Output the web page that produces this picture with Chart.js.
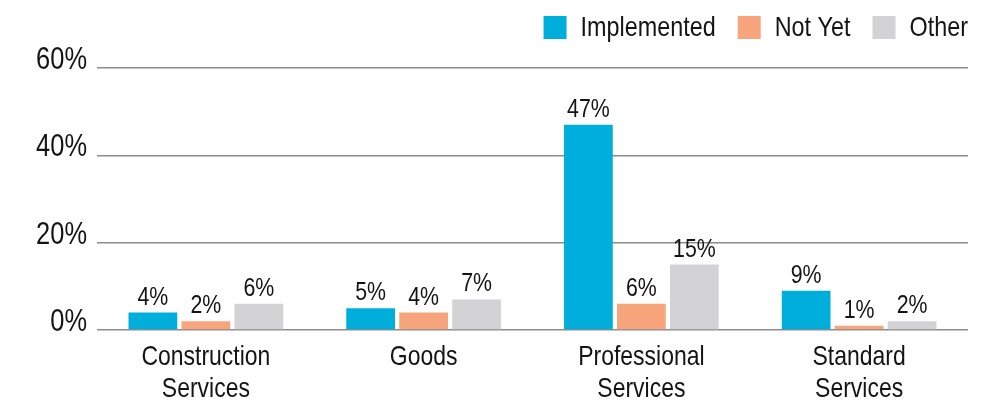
<!DOCTYPE html>
<html>
<head>
<meta charset="utf-8">
<script src="https://cdn.jsdelivr.net/npm/chart.js@4/dist/chart.umd.min.js"></script>
<style>
  html, body { margin: 0; padding: 0; background: #fff; }
  #wrap { width: 994px; height: 402px; position: relative; }
</style>
</head>
<body>
<div id="wrap"><canvas id="chart"></canvas></div>
<script>
const categories = [
  ['Construction', 'Services'],
  'Goods',
  ['Professional', 'Services'],
  ['Standard', 'Services'],
];
const implemented = [4, 5, 47, 9];
const notYet = [2, 4, 6, 1];
const other = [6, 7, 15, 2];

const FONT = "'Liberation Sans', Arial, sans-serif";
const TEXT = '#141414';
const NARROW = 0.82;   // squeeze text horizontally, narrow-face look

// write text squeezed horizontally around its anchor point
function narrowText(ctx, text, x, y, align, squeeze = NARROW) {
  ctx.save();
  ctx.translate(x, y);
  ctx.scale(squeeze, 1);
  ctx.textAlign = align;
  ctx.fillText(text, 0, 0);
  ctx.restore();
}

// axis labels: tick positions come from the scales, text drawn narrow
const axisText = {
  id: 'axisText',
  afterDraw(chart) {
    const ctx = chart.ctx;
    const { x, y } = chart.scales;
    ctx.save();
    ctx.fillStyle = TEXT;
    ctx.textBaseline = 'alphabetic';

    ctx.font = `31px ${FONT}`;
    y.ticks.forEach((t, i) => {
      narrowText(ctx, t.value + '%', y.right - 10, y.getPixelForTick(i) + 1, 'right');
    });

    ctx.font = `28px ${FONT}`;
    categories.forEach((c, i) => {
      const lines = Array.isArray(c) ? c : [c];
      const cx = x.getPixelForTick(i);
      lines.forEach((line, k) => {
        narrowText(ctx, line, cx, x.top + 35 + k * 32, 'center');
      });
    });
    ctx.restore();
  },
};

// value labels above each bar
const barLabels = {
  id: 'barLabels',
  afterDatasetsDraw(chart) {
    const ctx = chart.ctx;
    ctx.save();
    ctx.font = `26px ${FONT}`;
    ctx.fillStyle = TEXT;
    ctx.textBaseline = 'alphabetic';
    chart.data.datasets.forEach((ds, i) => {
      chart.getDatasetMeta(i).data.forEach((bar, j) => {
        narrowText(ctx, ds.data[j] + '%', bar.x, bar.y - 8, 'center');
      });
    });
    ctx.restore();
  },
};

// legend in the top right corner, laid out right to left
const cornerLegend = {
  id: 'cornerLegend',
  afterDraw(chart) {
    const ctx = chart.ctx;
    const box = 23, gap = 14, spacing = 22, top = 16, squeeze = 0.835;
    ctx.save();
    ctx.font = `28px ${FONT}`;
    ctx.textBaseline = 'alphabetic';
    let x = chart.chartArea.right;
    chart.data.datasets.slice().reverse().forEach(ds => {
      const w = ctx.measureText(ds.label).width * squeeze;
      x -= w;
      ctx.fillStyle = TEXT;
      narrowText(ctx, ds.label, x, top + 20, 'left', squeeze);
      x -= gap + box;
      ctx.fillStyle = ds.backgroundColor;
      ctx.fillRect(x, top, box, box);
      x -= spacing;
    });
    ctx.restore();
  },
};

new Chart(document.getElementById('chart'), {
  type: 'bar',
  data: {
    labels: categories,
    datasets: [
      { label: 'Implemented', data: implemented, backgroundColor: '#00aedb' },
      { label: 'Not Yet', data: notYet, backgroundColor: '#f8a47c' },
      { label: 'Other', data: other, backgroundColor: '#d3d3d5' },
    ],
  },
  options: {
    responsive: true,
    maintainAspectRatio: false,
    animation: false,
    categoryPercentage: 0.73,
    barPercentage: 0.92,
    layout: { padding: { top: 68, right: 26, left: 30, bottom: 0 } },
    plugins: {
      legend: { display: false },
      tooltip: { enabled: false },
    },
    scales: {
      x: {
        grid: { display: false },
        border: { display: false },
        ticks: { display: false },
        afterFit: scale => { scale.height = 72; },
      },
      y: {
        min: 0,
        max: 60,
        border: { display: false },
        grid: { color: '#8c8c8c', lineWidth: 1.5, drawTicks: false },
        ticks: { stepSize: 20, display: false },
        afterFit: scale => { scale.width = 67; },
      },
    },
  },
  plugins: [barLabels, axisText, cornerLegend],
});
</script>
</body>
</html>
